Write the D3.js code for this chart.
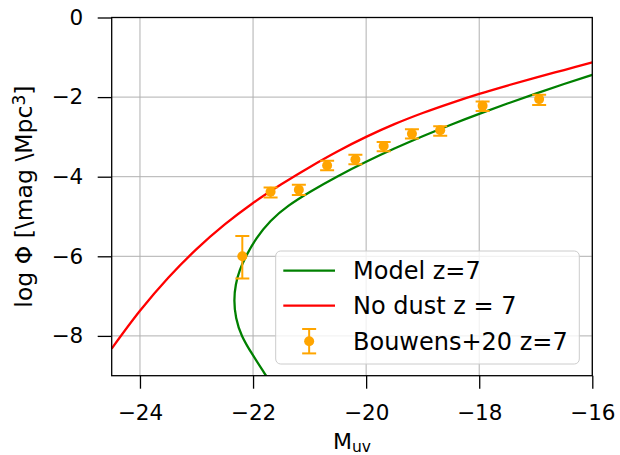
<!DOCTYPE html>
<html>
<head>
<meta charset="utf-8">
<script src="https://cdn.jsdelivr.net/npm/d3@7"></script>
<style>
  html, body { margin: 0; padding: 0; background: #fff; }
  svg { display: block; font-family: "DejaVu Sans", sans-serif; }
</style>
</head>
<body>
<svg id="chart" width="620" height="455"></svg>
<script>
// Tick positions
const xTicks = [-24, -22, -20, -18, -16];
const yTicks = [0, -2, -4, -6, -8];

// Bouwens+20 z=7 measurements (log Phi with asymmetric errors)
const obsM      = [-22.19, -21.69, -21.19, -20.69, -20.19, -19.69, -19.19, -18.69, -17.94, -16.94];
const obsLogPhi = [-6.00, -4.38, -4.33, -3.72, -3.57, -3.23, -2.92, -2.83, -2.22, -2.05];
const obsErrUp  = [0.51, 0.11, 0.13, 0.12, 0.12, 0.10, 0.11, 0.10, 0.11, 0.11];
const obsErrDn  = [0.56, 0.14, 0.13, 0.12, 0.12, 0.13, 0.12, 0.14, 0.13, 0.15];

// Dust-free luminosity function, z = 7
const noDustM   = [-24.5, -24.0, -23.5, -23.0, -22.5, -22.0, -21.5, -21.0, -20.5, -20.0,
                   -19.5, -19.0, -18.5, -18.0, -17.5, -17.0, -16.5, -16.0];
const noDustPhi = [-8.32, -7.37, -6.54, -5.82, -5.20, -4.66, -4.19, -3.76, -3.36, -3.00,
                   -2.68, -2.40, -2.15, -1.92, -1.71, -1.51, -1.32, -1.13];

// Model with dust attenuation, z = 7 (bends back at the bright end)
const modelM   = [-21.77, -22.02, -22.21, -22.31, -22.34, -22.31, -22.24, -22.13, -21.95, -21.70,
                  -21.38, -21.0, -20.5, -20.0, -19.5, -19.0, -18.5, -18.0, -17.5, -17.0, -16.5, -16.0];
const modelPhi = [-9.0, -8.45, -8.0, -7.55, -7.1, -6.7, -6.35, -6.0, -5.55, -5.10,
                  -4.72, -4.38, -3.98, -3.62, -3.29, -2.98, -2.69, -2.42, -2.16, -1.91, -1.67, -1.44];

const legendLabels = ["Model z=7", "No dust z = 7", "Bouwens+20 z=7"];

const GREEN = "#008000", RED = "#ff0000", ORANGE = "#ffa500";

const svg = d3.select("#chart");
const plot = { left: 111.7, right: 592.3, top: 17.5, bottom: 375.7 };

const x = d3.scaleLinear().domain([-24.5, -16]).range([plot.left, plot.right]);
const y = d3.scaleLinear().domain([-9, 0]).range([plot.bottom, plot.top]);

const fmt = d => String(d).replace("-", "\u2212");

svg.append("defs").append("clipPath").attr("id", "plotClip")
  .append("rect")
  .attr("x", plot.left).attr("y", plot.top)
  .attr("width", plot.right - plot.left).attr("height", plot.bottom - plot.top);

// Grid
const grid = svg.append("g").attr("stroke", "#b0b0b0").attr("stroke-width", 1);
grid.selectAll("line.gx").data(xTicks).join("line")
  .attr("x1", d => x(d)).attr("x2", d => x(d))
  .attr("y1", plot.top).attr("y2", plot.bottom);
grid.selectAll("line.gy").data(yTicks).join("line")
  .attr("x1", plot.left).attr("x2", plot.right)
  .attr("y1", d => y(d)).attr("y2", d => y(d));

// Curves
const redLine = d3.line().x(d => x(d[0])).y(d => y(d[1])).curve(d3.curveCatmullRom.alpha(0.5));
const greenLine = d3.line().x(d => x(d[0])).y(d => y(d[1])).curve(d3.curveBasis);
const curves = svg.append("g").attr("clip-path", "url(#plotClip)").attr("fill", "none").attr("stroke-width", 2.3);
curves.append("path").attr("stroke", GREEN).attr("d", greenLine(d3.zip(modelM, modelPhi)));
curves.append("path").attr("stroke", RED).attr("d", redLine(d3.zip(noDustM, noDustPhi)));

// Observations with error bars
const obs = d3.range(obsM.length).map(i => ({ m: obsM[i], v: obsLogPhi[i], up: obsErrUp[i], dn: obsErrDn[i] }));
const eb = svg.append("g").attr("clip-path", "url(#plotClip)");
const capW = 7;
const pts = eb.selectAll("g").data(obs).join("g");
pts.append("line").attr("stroke", ORANGE).attr("stroke-width", 2)
  .attr("x1", d => x(d.m)).attr("x2", d => x(d.m))
  .attr("y1", d => y(d.v + d.up)).attr("y2", d => y(d.v - d.dn));
pts.append("line").attr("stroke", ORANGE).attr("stroke-width", 2)
  .attr("x1", d => x(d.m) - capW).attr("x2", d => x(d.m) + capW)
  .attr("y1", d => y(d.v + d.up)).attr("y2", d => y(d.v + d.up));
pts.append("line").attr("stroke", ORANGE).attr("stroke-width", 2)
  .attr("x1", d => x(d.m) - capW).attr("x2", d => x(d.m) + capW)
  .attr("y1", d => y(d.v - d.dn)).attr("y2", d => y(d.v - d.dn));
pts.append("circle").attr("fill", ORANGE)
  .attr("cx", d => x(d.m)).attr("cy", d => y(d.v)).attr("r", 5);

// Axes
const xAxis = d3.axisBottom(x).tickValues(xTicks).tickFormat(fmt).tickSize(13).tickPadding(16);
const yAxis = d3.axisLeft(y).tickValues(yTicks).tickFormat(fmt).tickSize(14).tickPadding(14.5);

const gx = svg.append("g").attr("transform", `translate(0,${plot.bottom})`).call(xAxis);
const gy = svg.append("g").attr("transform", `translate(${plot.left},0)`).call(yAxis);
[gx, gy].forEach(g => {
  g.select(".domain").remove();
  g.selectAll(".tick line").attr("stroke", "#000").attr("stroke-width", 1.3);
  g.selectAll(".tick text").attr("fill", "#000")
    .style("font-family", "'DejaVu Sans', sans-serif").style("font-size", "21.5px");
});

// Frame
svg.append("rect")
  .attr("x", plot.left).attr("y", plot.top)
  .attr("width", plot.right - plot.left).attr("height", plot.bottom - plot.top)
  .attr("fill", "none").attr("stroke", "#000").attr("stroke-width", 1.3);

// Axis labels
const xl = svg.append("text").attr("x", (plot.left + plot.right) / 2).attr("y", 449)
  .attr("text-anchor", "middle").style("font-size", "22px").attr("fill", "#000");
xl.append("tspan").text("M");
xl.append("tspan").attr("baseline-shift", "-20%").style("font-size", "15.5px").text("uv");

const yl = svg.append("text")
  .attr("transform", `translate(32,${(plot.top + plot.bottom) / 2}) rotate(-90)`)
  .attr("text-anchor", "middle").style("font-size", "23.5px").attr("fill", "#000");
yl.append("tspan").text("log \u03A6 [\\mag \\Mpc");
yl.append("tspan").attr("baseline-shift", "40%").style("font-size", "17px").text("3");
yl.append("tspan").text("]");

// Legend
const lg = svg.append("g");
lg.append("rect")
  .attr("x", 275.7).attr("y", 251).attr("width", 579.3 - 275.7).attr("height", 364 - 251)
  .attr("rx", 5).attr("ry", 5)
  .attr("fill", "#fff").attr("fill-opacity", 0.8)
  .attr("stroke", "#cccccc").attr("stroke-width", 1);

const rowY = [270.7, 305.7, 341.2];
const hx0 = 283.3, hx1 = 335, textX = 353;
lg.append("line").attr("x1", hx0).attr("x2", hx1).attr("y1", rowY[0]).attr("y2", rowY[0])
  .attr("stroke", GREEN).attr("stroke-width", 2.3);
lg.append("line").attr("x1", hx0).attr("x2", hx1).attr("y1", rowY[1]).attr("y2", rowY[1])
  .attr("stroke", RED).attr("stroke-width", 2.3);
const hxm = (hx0 + hx1) / 2;
const eh = lg.append("g").attr("stroke", ORANGE).attr("stroke-width", 2);
eh.append("line").attr("x1", hxm).attr("x2", hxm).attr("y1", rowY[2] - 12.2).attr("y2", rowY[2] + 12.2);
eh.append("line").attr("x1", hxm - capW).attr("x2", hxm + capW).attr("y1", rowY[2] - 12.2).attr("y2", rowY[2] - 12.2);
eh.append("line").attr("x1", hxm - capW).attr("x2", hxm + capW).attr("y1", rowY[2] + 12.2).attr("y2", rowY[2] + 12.2);
lg.append("circle").attr("cx", hxm).attr("cy", rowY[2]).attr("r", 5).attr("fill", ORANGE);

lg.selectAll("text.lab").data(legendLabels).join("text")
  .attr("x", textX).attr("y", (d, i) => rowY[i] + 8.7)
  .style("font-size", "24px").attr("fill", "#000")
  .text(d => d);
</script>
</body>
</html>
